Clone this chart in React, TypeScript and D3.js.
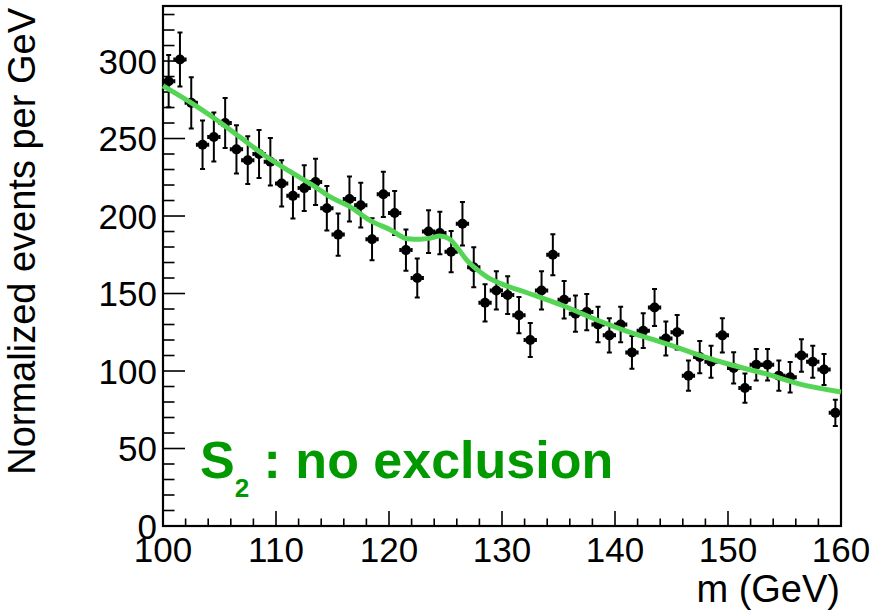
import * as d3 from 'd3';
import { useEffect, useRef } from 'react';

// bin centres (GeV), measured values and their error bars
const binCenters = [
	100.5, 101.5, 102.5, 103.5, 104.5, 105.5, 106.5, 107.5, 108.5, 109.5,
	110.5, 111.5, 112.5, 113.5, 114.5, 115.5, 116.5, 117.5, 118.5, 119.5,
	120.5, 121.5, 122.5, 123.5, 124.5, 125.5, 126.5, 127.5, 128.5, 129.5,
	130.5, 131.5, 132.5, 133.5, 134.5, 135.5, 136.5, 137.5, 138.5, 139.5,
	140.5, 141.5, 142.5, 143.5, 144.5, 145.5, 146.5, 147.5, 148.5, 149.5,
	150.5, 151.5, 152.5, 153.5, 154.5, 155.5, 156.5, 157.5, 158.5, 159.5,
];
const events = [
	287, 301, 273, 246, 251, 260, 243, 236, 240, 235,
	221, 213, 218, 222, 205, 188, 211, 207, 185, 214,
	202, 178, 160, 190, 189, 177, 195, 167, 144, 152,
	149, 136, 120, 152, 175, 146, 137, 138, 130, 123,
	130, 112, 126, 141, 121, 125, 97, 109, 106, 123,
	102, 89, 104, 104, 97, 96, 110, 106, 101, 73,
];
const errors = [
	16.9, 17.4, 16.5, 15.7, 15.8, 16.1, 15.6, 15.4, 15.5, 15.3,
	14.9, 14.6, 14.8, 14.9, 14.3, 13.7, 14.5, 14.4, 13.6, 14.6,
	14.2, 13.3, 12.6, 13.8, 13.7, 13.3, 14.0, 12.9, 12.0, 12.3,
	12.2, 11.7, 11.0, 12.3, 13.2, 12.1, 11.7, 11.7, 11.4, 11.1,
	11.4, 10.6, 11.2, 11.9, 11.0, 11.2, 9.8, 10.4, 10.3, 11.1,
	10.1, 9.4, 10.2, 10.2, 9.8, 9.8, 10.5, 10.3, 10.0, 8.5,
];

// fitted curve (S2 hypothesis)
const curveM = [
	100, 102.4, 104.6, 106.8, 109, 111.3, 113.5, 114.8, 116.6, 118.3,
	120.1, 121.6, 122.8, 123.7, 124.5, 125.3, 126, 126.9, 127.8, 128.7,
	129.9, 132.4, 135.3, 138.3, 141.2, 144.5, 147.5, 150.4, 153.3, 156.2, 160,
];
const curveV = [
	284, 273.5, 262.8, 251, 239, 228.4, 218.7, 212.3, 205.8, 197.2,
	191.2, 185.4, 185, 185.8, 187.1, 185.4, 180, 171.4, 165.4, 160.6,
	156.4, 150, 142.4, 133.2, 125.2, 117.7, 110.1, 103.7, 98.3, 91.9, 86.5,
];

const xTicks = [100, 110, 120, 130, 140, 150, 160];
const yTicks = [0, 50, 100, 150, 200, 250, 300];

const width = 875;
const height = 611;
const font = '"Liberation Sans", Arial, Helvetica, sans-serif';

const Chart = () => {
	const svgRef = useRef(null);

	useEffect(() => {
		const left = 163;
		const right = 841;
		const top = 6;
		const bottom = 526;

		const x = d3.scaleLinear([100, 160], [left, right]);
		const y = d3.scaleLinear([0, 335.5], [bottom, top]);

		const svg = d3.select(svgRef.current);
		svg.selectAll('*').remove();

		// minor + major ticks (inside the frame)
		const xMinor = d3.range(100, 160.01, 2);
		svg.append('g')
			.selectAll('line')
			.data(xMinor)
			.join('line')
			.attr('x1', (d) => x(d))
			.attr('x2', (d) => x(d))
			.attr('y1', bottom)
			.attr('y2', (d) => bottom - (d % 10 === 0 ? 15 : 7.5))
			.attr('stroke', '#000')
			.attr('stroke-width', 1.6);

		const yMinor = d3.range(0, 331, 10);
		svg.append('g')
			.selectAll('line')
			.data(yMinor)
			.join('line')
			.attr('y1', (d) => y(d))
			.attr('y2', (d) => y(d))
			.attr('x1', left)
			.attr('x2', (d) => left + (d % 50 === 0 ? 22 : 11.5))
			.attr('stroke', '#000')
			.attr('stroke-width', 1.6);

		// frame
		svg.append('rect')
			.attr('x', left)
			.attr('y', top)
			.attr('width', right - left)
			.attr('height', bottom - top)
			.attr('fill', 'none')
			.attr('stroke', '#000')
			.attr('stroke-width', 2.2);

		// tick labels
		svg.append('g')
			.selectAll('text')
			.data(xTicks)
			.join('text')
			.attr('x', (d) => x(d))
			.attr('y', 562)
			.attr('text-anchor', 'middle')
			.attr('font-family', font)
			.attr('font-size', 35)
			.text((d) => d);

		svg.append('g')
			.selectAll('text')
			.data(yTicks)
			.join('text')
			.attr('x', 157)
			.attr('y', (d) => y(d) + 12.5)
			.attr('text-anchor', 'end')
			.attr('font-family', font)
			.attr('font-size', 35)
			.text((d) => d);

		// axis titles
		svg.append('text')
			.attr('x', 840)
			.attr('y', 602)
			.attr('text-anchor', 'end')
			.attr('font-family', font)
			.attr('font-size', 38)
			.text('m (GeV)');

		svg.append('text')
			.attr('transform', 'translate(35,8) rotate(-90)')
			.attr('text-anchor', 'end')
			.attr('font-family', font)
			.attr('font-size', 38)
			.text('Normalized events per GeV');

		// data points with error bars
		const pts = svg.append('g');
		const I = d3.range(binCenters.length);
		const half = (x(101) - x(100)) / 2;

		pts.selectAll('line.v')
			.data(I)
			.join('line')
			.attr('class', 'v')
			.attr('x1', (i) => x(binCenters[i]))
			.attr('x2', (i) => x(binCenters[i]))
			.attr('y1', (i) => y(events[i] - errors[i]))
			.attr('y2', (i) => y(events[i] + errors[i]))
			.attr('stroke', '#000')
			.attr('stroke-width', 2);

		// vertical caps
		pts.selectAll('path.cap')
			.data(I)
			.join('path')
			.attr('class', 'cap')
			.attr('d', (i) => {
				const cx = x(binCenters[i]);
				const lo = y(events[i] - errors[i]);
				const hi = y(events[i] + errors[i]);
				return `M${cx - 2.5},${lo}H${cx + 2.5}M${cx - 2.5},${hi}H${cx + 2.5}`;
			})
			.attr('stroke', '#000')
			.attr('stroke-width', 2);

		// horizontal bars (bin width)
		pts.selectAll('path.h')
			.data(I)
			.join('path')
			.attr('class', 'h')
			.attr('d', (i) => {
				const cx = x(binCenters[i]);
				const cy = y(events[i]);
				return `M${cx - half},${cy}H${cx + half}M${cx - half},${cy - 2}V${cy + 2}M${cx + half},${cy - 2}V${cy + 2}`;
			})
			.attr('stroke', '#000')
			.attr('stroke-width', 2);

		pts.selectAll('circle')
			.data(I)
			.join('circle')
			.attr('cx', (i) => x(binCenters[i]))
			.attr('cy', (i) => y(events[i]))
			.attr('r', 5)
			.attr('fill', '#000');

		// fit curve
		const line = d3
			.line()
			.curve(d3.curveMonotoneX)
			.x((i) => x(curveM[i]))
			.y((i) => y(curveV[i]));

		svg.append('path')
			.attr('fill', 'none')
			.attr('stroke', '#55d555')
			.attr('stroke-width', 5)
			.attr('d', line(d3.range(curveM.length)));

		// label
		const label = svg.append('text')
			.attr('x', 200)
			.attr('y', 478)
			.attr('font-family', font)
			.attr('font-weight', 'bold')
			.attr('font-size', 52)
			.attr('fill', '#009a00');
		label.append('tspan').text('S');
		label.append('tspan').attr('dy', 19).attr('font-size', 26).text('2');
		label.append('tspan').attr('dy', -19).text(' : no exclusion');
	}, []);

	return (
		<svg
			ref={svgRef}
			width={width}
			height={height}
			viewBox={`0 0 ${width} ${height}`}
			style={{ position: 'absolute', left: 0, top: 0, background: '#fff' }}
		/>
	);
};

export default function App() {
	return <Chart />;
}
